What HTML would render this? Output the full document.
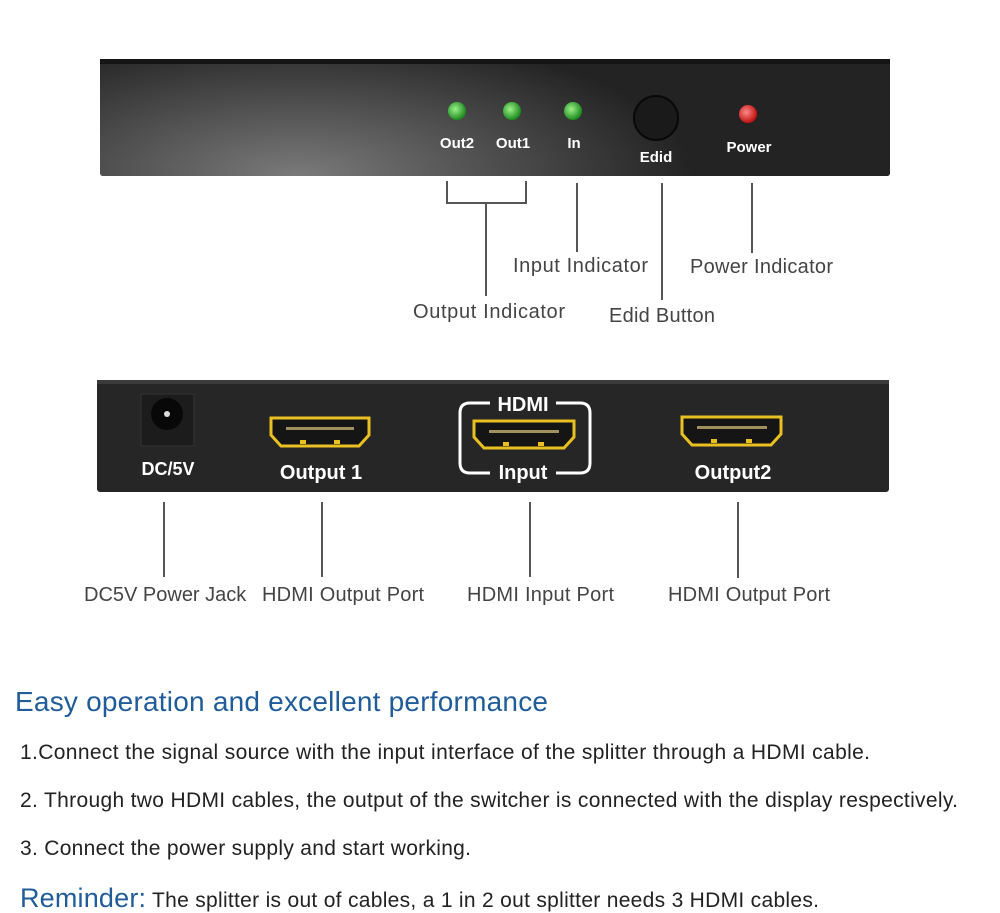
<!DOCTYPE html>
<html><head><style>html,body{margin:0;padding:0;background:#fff}svg{display:block}</style></head>
<body>
<svg width="1000" height="913" viewBox="0 0 1000 913" xmlns="http://www.w3.org/2000/svg" font-family="Liberation Sans, sans-serif">
<defs>
<radialGradient id="g1" cx="0.25" cy="1" r="0.5" gradientTransform="scale(1,2.5) translate(0,-0.6)">
<stop offset="0" stop-color="#7a7a7a"/><stop offset="1" stop-color="#232323"/></radialGradient>
<radialGradient id="led" cx="0.4" cy="0.4" r="0.6"><stop offset="0" stop-color="#9cf08a"/><stop offset="1" stop-color="#1d8a1d"/></radialGradient>
<radialGradient id="red" cx="0.4" cy="0.4" r="0.6"><stop offset="0" stop-color="#ff8a8a"/><stop offset="1" stop-color="#c01010"/></radialGradient>
</defs>
<rect x="100" y="59" width="790" height="117" rx="3" fill="#262626"/>
<rect x="100" y="59" width="790" height="117" rx="3" fill="url(#g1)"/>
<rect x="100" y="59" width="790" height="5" fill="#151515"/>
<circle cx="457" cy="111" r="9" fill="url(#led)"/>
<circle cx="512" cy="111" r="9" fill="url(#led)"/>
<circle cx="573" cy="111" r="9" fill="url(#led)"/>
<circle cx="656" cy="118" r="22" fill="#1a1a1a" stroke="#080808" stroke-width="2"/>
<circle cx="748" cy="114" r="9" fill="url(#red)"/>
<g fill="#fff" font-weight="bold" font-size="15" text-anchor="middle">
<text x="457" y="148">Out2</text><text x="513" y="148">Out1</text><text x="574" y="148">In</text>
<text x="656" y="162">Edid</text><text x="749" y="152">Power</text></g>
<g stroke="#555" stroke-width="2" fill="none">
<path d="M447 181V203H526V181M486 203V296"/>
<path d="M577 183V252M662 183V300M752 183V253"/>
<path d="M164 502V577M322 502V577M530 502V577M738 502V578"/>
</g>
<g fill="#444" font-size="20">
<text x="513" y="272" textLength="135">Input Indicator</text>
<text x="690" y="273" textLength="143">Power Indicator</text>
<text x="413" y="318" textLength="152">Output Indicator</text>
<text x="609" y="322" textLength="106">Edid Button</text>
<text x="84" y="601">DC5V Power Jack</text>
<text x="262" y="601" textLength="162">HDMI Output Port</text>
<text x="467" y="601" textLength="147">HDMI Input Port</text>
<text x="668" y="601" textLength="162">HDMI Output Port</text>
</g>
<rect x="97" y="380" width="792" height="112" rx="3" fill="#262626"/>
<rect x="97" y="380" width="792" height="4" fill="#3a3a3a"/>
<rect x="141" y="394" width="53" height="52" fill="#1c1c1c" stroke="#333"/>
<circle cx="167" cy="414" r="16" fill="#080808"/><circle cx="167" cy="414" r="3" fill="#ddd"/>
<g fill="#151515" stroke="#e8c020" stroke-width="3">
<path d="M271 418H369V435L359 446H281L271 435Z"/>
<path d="M474 421H574V437L564 448H484L474 437Z"/>
<path d="M682 417H781V434L771 445H692L682 434Z"/>
</g>
<g fill="#a09060"><rect x="286" y="427" width="68" height="3"/><rect x="489" y="430" width="70" height="3"/><rect x="697" y="426" width="70" height="3"/></g>
<g fill="#e8c020"><rect x="300" y="440" width="6" height="4"/><rect x="334" y="440" width="6" height="4"/><rect x="503" y="442" width="6" height="4"/><rect x="538" y="442" width="6" height="4"/><rect x="711" y="439" width="6" height="4"/><rect x="746" y="439" width="6" height="4"/></g>
<path d="M490 403H470Q460 403 460 413V463Q460 473 470 473H490M556 403H580Q590 403 590 413V463Q590 473 580 473H556" fill="none" stroke="#fff" stroke-width="3"/>
<g fill="#fff" font-weight="bold" text-anchor="middle">
<text x="168" y="475" font-size="18">DC/5V</text>
<text x="321" y="479" font-size="20">Output 1</text>
<text x="523" y="411" font-size="20">HDMI</text>
<text x="523" y="479" font-size="20">Input</text>
<text x="733" y="479" font-size="20">Output2</text>
</g>
<text x="15" y="711" font-size="28" fill="#1f5c99" textLength="533">Easy operation and excellent performance</text>
<g fill="#222" font-size="21">
<text x="20" y="759" textLength="850">1.Connect the signal source with the input interface of the splitter through a HDMI cable.</text>
<text x="20" y="807" textLength="938">2. Through two HDMI cables, the output of the switcher is connected with the display respectively.</text>
<text x="20" y="855" textLength="451">3. Connect the power supply and start working.</text>
<text x="152" y="907" textLength="667">The splitter is out of cables,  a 1 in 2 out splitter needs 3 HDMI cables.</text>
</g>
<text x="20" y="907" font-size="27" fill="#1f5c99" textLength="126">Reminder:</text>
</svg>
</body></html>
